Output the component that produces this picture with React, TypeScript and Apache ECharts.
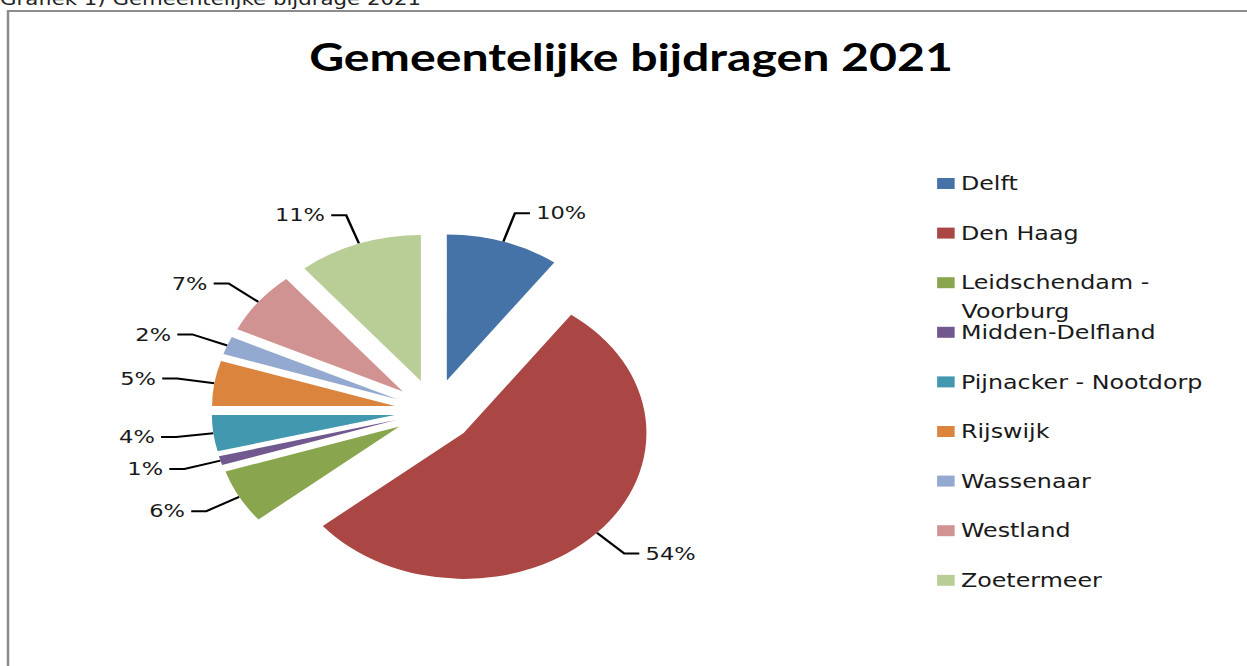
import React, { useEffect, useRef } from "react";
import * as echarts from "echarts";

const categories = [
  "Delft",
  "Den Haag",
  "Leidschendam - Voorburg",
  "Midden-Delfland",
  "Pijnacker - Nootdorp",
  "Rijswijk",
  "Wassenaar",
  "Westland",
  "Zoetermeer",
];
const shares = [10, 54, 6, 1, 4, 5, 2, 7, 11];
const colors = [
  "#4572A7",
  "#AA4643",
  "#89A54E",
  "#71588F",
  "#4198AF",
  "#DB843D",
  "#93A9CF",
  "#D19392",
  "#B9CD96",
];
const titleText = "Gemeentelijke bijdragen 2021";
const captionText = "Grafiek 1) Gemeentelijke bijdrage 2021";

const SX = 1.252;
const W = 1247 / SX;
const H = 666;

export default function App() {
  const ref = useRef<HTMLDivElement>(null);
  useEffect(() => {
    if (!ref.current) return;
    const chart = echarts.init(ref.current, null, { renderer: "svg" });
    chart.setOption({
      animation: false,
      color: colors,
      title: {
        text: titleText,
        left: 499,
        top: 31,
        textAlign: "center",
        textStyle: {
          fontFamily: "Lato",
          fontWeight: "bold",
          fontSize: 38.5,
          color: "#000",
        },
      },
      legend: {
        orient: "vertical",
        left: 743.5,
        top: 168.5,
        itemWidth: 14,
        itemHeight: 11,
        itemGap: 29.6,
        icon: "rect",
        selectedMode: false,
        data: categories,
        formatter: (n: string) =>
          n === "Leidschendam - Voorburg" ? "Leidschendam -" : n,
        textStyle: {
          fontFamily: "DejaVu Sans",
          fontSize: 19,
          lineHeight: 20,
          color: "#1a1a1a",
        },
      },
      graphic: [
        {
          type: "rect",
          silent: true,
          shape: { x: 6.4, y: 11, width: 1100, height: 800 },
          style: { fill: "none", stroke: "#8c8c8c", lineWidth: 2 },
        },
        {
          type: "text",
          silent: true,
          x: 0,
          y: -0.5,
          style: {
            text: captionText,
            fontFamily: "DejaVu Sans",
            fontSize: 17,
            fill: "#222",
            verticalAlign: "middle",
            align: "left",
          },
        },
        {
          type: "text",
          silent: true,
          x: 768,
          y: 311,
          style: {
            text: "Voorburg",
            fontFamily: "DejaVu Sans",
            fontSize: 19,
            fill: "#1a1a1a",
            verticalAlign: "middle",
            align: "left",
          },
        },
      ],
      series: [
        {
          type: "pie",
          center: [347, 411],
          radius: 146,
          startAngle: 90,
          clockwise: true,
          selectedMode: "multiple",
          selectedOffset: 32,
          avoidLabelOverlap: true,
          emphasis: { disabled: true },
          label: {
            show: true,
            position: "outside",
            formatter: (p: any) => p.value + "%",
            fontFamily: "DejaVu Sans",
            fontSize: 18,
            color: "#1a1a1a",
          },
          labelLine: {
            show: true,
            length: 30,
            length2: 12,
            lineStyle: { color: "#000", width: 2 },
          },
          data: categories.map((c, i) => ({
            name: c,
            value: shares[i],
            selected: true,
          })),
        },
      ],
    });
    return () => chart.dispose();
  }, []);
  return (
    <div
      ref={ref}
      style={{
        position: "absolute",
        left: 0,
        top: 0,
        width: W,
        height: H,
        transform: `scaleX(${SX})`,
        transformOrigin: "0 0",
        background: "#fff",
      }}
    />
  );
}
